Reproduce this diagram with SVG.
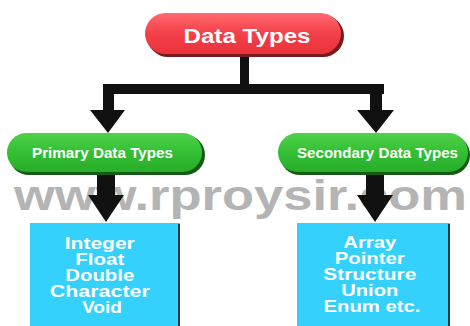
<svg xmlns="http://www.w3.org/2000/svg" width="470" height="326" viewBox="0 0 470 326">
<defs>
<linearGradient id="gRed" x1="0" y1="0" x2="0" y2="1">
<stop offset="0" stop-color="#ff6a6e"/><stop offset="0.5" stop-color="#f4404a"/><stop offset="1" stop-color="#e8323c"/>
</linearGradient>
<linearGradient id="gGreen" x1="0" y1="0" x2="0" y2="1">
<stop offset="0" stop-color="#4fd24a"/><stop offset="0.5" stop-color="#33bf33"/><stop offset="1" stop-color="#28ad2a"/>
</linearGradient>
<style>
.t{font-family:"Liberation Sans",Arial,sans-serif;font-weight:bold;fill:#fff;text-anchor:middle}
.wm{font-family:"Liberation Sans",Arial,sans-serif;font-weight:bold;fill:#b4b4b4}
.arr{fill:#111}
.box{fill:#33d1fb}
.edge{fill:#1c3a48}
</style>
</defs>
<rect width="470" height="326" fill="#fff"/>
<text class="wm" x="14" y="210" font-size="43" textLength="453" lengthAdjust="spacingAndGlyphs">www.rproysir.com</text>
<g id="connectors">
<rect class="arr" x="240" y="54" width="9" height="36"/>
<rect class="arr" x="103" y="84" width="281" height="10"/>
<rect class="arr" x="103" y="84" width="11" height="28"/>
<polygon class="arr" points="90,110 125,110 108,133"/>
<rect class="arr" x="370" y="84" width="12" height="28"/>
<polygon class="arr" points="357,110 394,110 376,133"/>
<rect class="arr" x="97" y="172" width="18" height="25"/>
<polygon class="arr" points="88,195 124,195 106,222"/>
<rect class="arr" x="366" y="172" width="18" height="25"/>
<polygon class="arr" points="357,195 393,195 375,222"/>
</g>
<g id="data-types">
<rect x="147" y="15" width="197" height="42" rx="21" fill="#7a1a1e"/>
<rect x="145" y="13" width="196" height="41" rx="20.5" fill="url(#gRed)"/>
<text class="t" x="247" y="43" font-size="20" textLength="127" lengthAdjust="spacingAndGlyphs">Data Types</text>
</g>
<g id="primary">
<rect x="9" y="135" width="196" height="40" rx="20" fill="#155a15"/>
<rect x="7" y="133" width="195" height="39" rx="19.5" fill="url(#gGreen)"/>
<text class="t" x="102.5" y="158" font-size="15" textLength="141" lengthAdjust="spacingAndGlyphs">Primary Data Types</text>
</g>
<g id="secondary">
<rect x="280" y="135" width="190" height="40" rx="20" fill="#155a15"/>
<rect x="278" y="133" width="190" height="39" rx="19.5" fill="url(#gGreen)"/>
<text class="t" x="377.5" y="158" font-size="15" textLength="161" lengthAdjust="spacingAndGlyphs">Secondary Data Types</text>
</g>
<g id="primary-list">
<rect class="box" x="30" y="223" width="150" height="103"/>
<rect class="edge" x="178" y="224" width="2" height="102"/>
<text class="t" font-size="16">
<tspan x="102" y="249" textLength="70" lengthAdjust="spacingAndGlyphs">Integer</tspan>
<tspan x="102" y="265" textLength="49" lengthAdjust="spacingAndGlyphs">Float</tspan>
<tspan x="102" y="281" textLength="69" lengthAdjust="spacingAndGlyphs">Double</tspan>
<tspan x="102" y="297" textLength="100" lengthAdjust="spacingAndGlyphs">Character</tspan>
<tspan x="102" y="313" textLength="40" lengthAdjust="spacingAndGlyphs">Void</tspan>
</text>
</g>
<g id="secondary-list">
<rect class="box" x="297" y="223" width="153" height="103"/>
<rect class="edge" x="448" y="224" width="2" height="102"/>
<text class="t" font-size="16">
<tspan x="372" y="248" textLength="53" lengthAdjust="spacingAndGlyphs">Array</tspan>
<tspan x="372" y="264" textLength="70" lengthAdjust="spacingAndGlyphs">Pointer</tspan>
<tspan x="372" y="280" textLength="93" lengthAdjust="spacingAndGlyphs">Structure</tspan>
<tspan x="372" y="296" textLength="57" lengthAdjust="spacingAndGlyphs">Union</tspan>
<tspan x="372" y="312" textLength="97" lengthAdjust="spacingAndGlyphs">Enum etc.</tspan>
</text>
</g>
</svg>
